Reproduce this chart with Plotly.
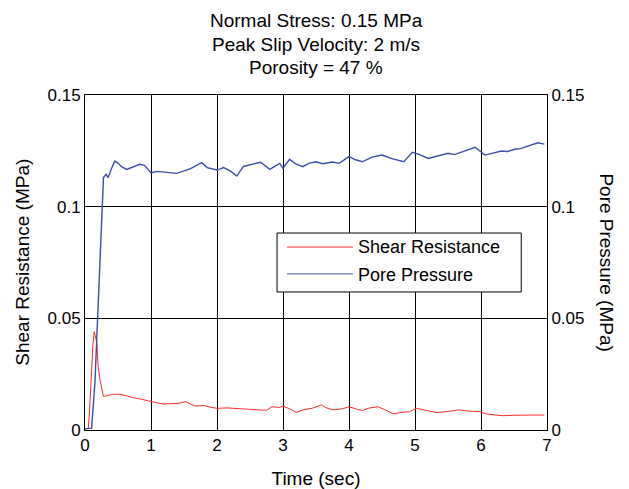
import plotly.graph_objects as go

# Data
shear_t = [0, 0.05, 0.07, 0.1, 0.12, 0.14, 0.16, 0.18, 0.2, 0.23, 0.28, 0.35, 0.43, 0.53, 0.63, 0.73, 0.85,
           1.0, 1.1, 1.18, 1.3, 1.43, 1.53, 1.6, 1.68, 1.8, 1.9, 2.0, 2.15, 2.3, 2.45, 2.55, 2.65, 2.75, 2.83,
           2.95, 3.0, 3.1, 3.2, 3.3, 3.45, 3.58, 3.65, 3.76, 3.9, 4.0, 4.1, 4.2, 4.3, 4.44, 4.55, 4.67, 4.8,
           4.92, 5.02, 5.15, 5.33, 5.5, 5.66, 5.8, 5.98, 6.08, 6.2, 6.33, 6.5, 6.65, 6.78, 6.96]
shear_v = [0.0005, 0.0007, 0.009, 0.028, 0.038, 0.044, 0.042, 0.039, 0.028, 0.022, 0.015, 0.0155, 0.016, 0.016,
           0.0152, 0.0145, 0.0138, 0.0127, 0.0122, 0.0116, 0.0118, 0.012, 0.0127, 0.0115, 0.0107, 0.0110, 0.0102,
           0.0097, 0.0099, 0.0097, 0.0095, 0.0093, 0.009, 0.0088, 0.0104, 0.0101, 0.0107, 0.0095, 0.0079, 0.0090,
           0.0098, 0.0112, 0.0100, 0.009, 0.0095, 0.0104, 0.0095, 0.0087, 0.0098, 0.0104, 0.009, 0.0072, 0.0079,
           0.0082, 0.0097, 0.0088, 0.0078, 0.0083, 0.009, 0.0085, 0.0082, 0.0072, 0.0068, 0.0064, 0.0066, 0.0065,
           0.0067, 0.0067]

pore_t = [0, 0.1, 0.15, 0.2, 0.26, 0.28, 0.32, 0.35, 0.4, 0.45, 0.5, 0.55, 0.63, 0.7, 0.83, 0.9, 1.0, 1.1,
          1.25, 1.39, 1.5, 1.6, 1.77, 1.85, 2.0, 2.1, 2.2, 2.3, 2.4, 2.5, 2.66, 2.8, 2.95, 3.0, 3.1, 3.2, 3.3,
          3.4, 3.5, 3.6, 3.75, 3.85, 4.0, 4.1, 4.2, 4.35, 4.5, 4.65, 4.83, 4.96, 5.05, 5.2, 5.35, 5.5, 5.6,
          5.71, 5.91, 6.06, 6.2, 6.31, 6.4, 6.51, 6.6, 6.71, 6.86, 6.96]
pore_v = [0.0005, 0.0008, 0.021, 0.054, 0.094, 0.113, 0.1145, 0.113, 0.117, 0.1204, 0.1195, 0.118, 0.1167,
          0.1175, 0.119, 0.1185, 0.1152, 0.1158, 0.1152, 0.1149, 0.116, 0.117, 0.1197, 0.1175, 0.1164, 0.1175,
          0.116, 0.1137, 0.118, 0.1187, 0.1199, 0.1167, 0.1194, 0.1172, 0.1212, 0.119, 0.1179, 0.1195, 0.1201,
          0.1192, 0.12, 0.1194, 0.1224, 0.121, 0.1201, 0.1222, 0.1231, 0.1215, 0.1201, 0.1243, 0.1235, 0.1216,
          0.1228, 0.1239, 0.1233, 0.1246, 0.1266, 0.1231, 0.124, 0.1249, 0.1247, 0.1257, 0.126, 0.1272, 0.1286,
          0.128]

x_ticks = [0, 1, 2, 3, 4, 5, 6, 7]
y_ticks = [0, 0.05, 0.1, 0.15]
y_tick_labels = ["0", "0.05", "0.1", "0.15"]
title_lines = ["Normal Stress: 0.15 MPa", "Peak Slip Velocity: 2 m/s", "Porosity = 47 %"]

RED = "#ff2a2a"
BLUE = "#3a4fa8"
FONT = "Liberation Sans, Arial, sans-serif"

fig = go.Figure()
fig.add_trace(go.Scatter(x=shear_t, y=shear_v, mode="lines", line=dict(color=RED, width=1),
                         name="Shear Resistance", showlegend=False))
fig.add_trace(go.Scatter(x=pore_t, y=pore_v, mode="lines", line=dict(color=BLUE, width=1.4),
                         name="Pore Pressure", yaxis="y2", showlegend=False))

tickfont = dict(family=FONT, size=17, color="black")
axis_common = dict(showline=True, linecolor="black", linewidth=1, mirror=True,
                   showgrid=True, gridcolor="black", gridwidth=1, zeroline=False,
                   ticks="inside", ticklen=5, tickcolor="black", tickfont=tickfont)

# The page body has an 8 px default margin; sizes compensate for it
fig.update_layout(
    width=621, height=481,
    margin=dict(l=77, r=82, t=87, b=59, autoexpand=False),
    paper_bgcolor="white", plot_bgcolor="white",
    font=dict(family=FONT, size=17, color="black"),
    xaxis=dict(range=[0, 7], tickvals=x_ticks, automargin=False,
               title=dict(text="Time (sec)", font=dict(family=FONT, size=19, color="black"), standoff=18),
               **axis_common),
    yaxis=dict(range=[0, 0.15], tickvals=y_ticks, ticktext=y_tick_labels, automargin=False, **axis_common),
    yaxis2=dict(range=[0, 0.15], tickvals=y_ticks, ticktext=y_tick_labels, overlaying="y", side="right",
                showline=True, linecolor="black", linewidth=1, showgrid=False, zeroline=False,
                ticks="inside", ticklen=5, tickcolor="black", tickfont=tickfont, automargin=False),
)

# Title, three lines
for txt, yy in zip(title_lines, [1.2209, 1.1493, 1.0806]):
    fig.add_annotation(text=txt, xref="paper", yref="paper", x=0.5, y=yy, xanchor="center",
                       yanchor="middle", showarrow=False, font=dict(family=FONT, size=19, color="black"))

# Vertical axis titles
fig.add_annotation(text="Shear Resistance (MPa)", xref="paper", yref="paper", x=-0.163, y=0.5,
                   textangle=-90, showarrow=False, font=dict(family=FONT, size=19, color="black"))
fig.add_annotation(text="Pore Pressure (MPa)", xref="paper", yref="paper", x=1.155, y=0.5,
                   textangle=90, showarrow=False, font=dict(family=FONT, size=19, color="black"))

# Manual legend box
fig.add_shape(type="rect", xref="x", yref="y", x0=2.91, x1=6.61, y0=0.0618, y1=0.0882,
              line=dict(color="black", width=1), fillcolor="white", layer="above")
fig.add_shape(type="line", xref="x", yref="y", x0=3.06, x1=4.06, y0=0.0819, y1=0.0819,
              line=dict(color=RED, width=1), layer="above")
fig.add_shape(type="line", xref="x", yref="y", x0=3.06, x1=4.06, y0=0.0699, y1=0.0699,
              line=dict(color=BLUE, width=1), layer="above")
fig.add_annotation(text="Shear Resistance", xref="x", yref="y", x=4.1, y=0.0819, xanchor="left",
                   showarrow=False, font=dict(family=FONT, size=18, color="black"))
fig.add_annotation(text="Pore Pressure", xref="x", yref="y", x=4.1, y=0.0693, xanchor="left",
                   showarrow=False, font=dict(family=FONT, size=18, color="black"))

fig.write_html("out.html")
